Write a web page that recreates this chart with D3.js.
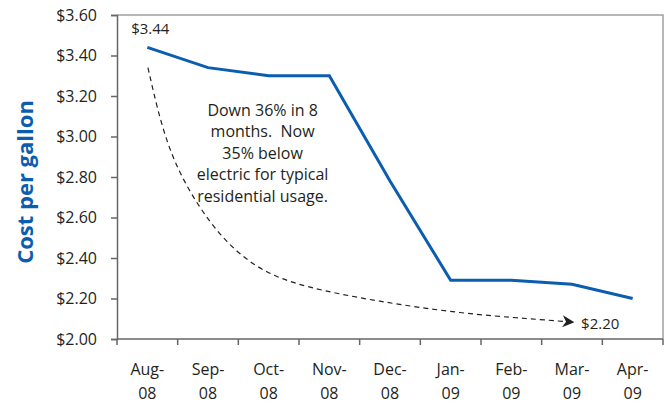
<!DOCTYPE html>
<html>
<head>
<meta charset="utf-8">
<script src="https://cdn.jsdelivr.net/npm/d3@7"></script>
<style>
  body { margin: 0; background: #fff; }
  text { font-family: "Open Sans", "Noto Sans", sans-serif; fill: #231f20; }
</style>
</head>
<body>
<svg id="chart" width="665" height="404"></svg>
<script>
// months on the x axis (two-line labels)
const months = ["Aug-", "Sep-", "Oct-", "Nov-", "Dec-", "Jan-", "Feb-", "Mar-", "Apr-"];
const years = ["08", "08", "08", "08", "08", "09", "09", "09", "09"];
// cost per gallon
const prices = [3.44, 3.34, 3.30, 3.30, 2.78, 2.29, 2.29, 2.27, 2.20];
const yTicks = [2.0, 2.2, 2.4, 2.6, 2.8, 3.0, 3.2, 3.4, 3.6];
// dashed trend arrow, [month index, value]
const arrowPts = [[0.01, 3.34], [0.3, 2.96], [0.75, 2.69], [1.3, 2.47], [1.9, 2.33],
                  [2.6, 2.255], [3.8, 2.185], [5.2, 2.125], [6.3, 2.1], [7.02, 2.083]];
const noteLines = ["Down 36% in 8", "months.  Now", "35% below", "electric for typical", "residential usage."];

const margin = {top: 15, right: 2, bottom: 65, left: 117};
const W = 665, H = 404;
const width = W - margin.left - margin.right;
const height = H - margin.top - margin.bottom;

const svg = d3.select("#chart");
const chart = svg.append("g").attr("transform", `translate(${margin.left},${margin.top})`);

const x = d3.scaleBand().domain(d3.range(months.length)).range([0, width]);
const xi = d3.scaleLinear().domain([-0.5, months.length - 0.5]).range([0, width]);
const y = d3.scaleLinear().domain([2, 3.6]).range([height, 0]);

// box top/right
chart.append("path")
  .attr("d", `M0,0H${width}V${height}`)
  .attr("fill", "none").attr("stroke", "#a0a0a0").attr("stroke-width", 1.5);

// y axis
const yAxis = chart.append("g")
  .call(d3.axisLeft(y).tickValues(yTicks).tickFormat(d => "$" + d.toFixed(2)).tickSize(6).tickPadding(14));
yAxis.select(".domain").attr("stroke", "#666").attr("stroke-width", 1.5);
yAxis.selectAll(".tick line").attr("stroke", "#666").attr("stroke-width", 1.5);
yAxis.selectAll("text").attr("font-size", 16).attr("fill", "#231f20")
  .attr("font-family", "Open Sans, sans-serif");

// x axis with ticks at category boundaries
const xAxisG = chart.append("g").attr("transform", `translate(0,${height})`);
xAxisG.append("line").attr("x1", 0).attr("x2", width)
  .attr("stroke", "#666").attr("stroke-width", 1.5);
xAxisG.selectAll(".bt").data(d3.range(months.length + 1)).join("line")
  .attr("x1", d => xi(d - 0.5)).attr("x2", d => xi(d - 0.5))
  .attr("y1", 0).attr("y2", 6)
  .attr("stroke", "#666").attr("stroke-width", 1.5);
const xl = xAxisG.selectAll(".xl").data(months).join("text")
  .attr("text-anchor", "middle").attr("font-size", 16)
  .attr("x", (d, i) => x(i) + x.bandwidth() / 2);
xl.append("tspan").attr("y", 36).text(d => d);
xl.append("tspan").attr("y", 60).attr("x", (d, i) => x(i) + x.bandwidth() / 2).text((d, i) => years[i]);

// price line
chart.append("path")
  .datum(prices)
  .attr("fill", "none").attr("stroke", "#0b5db0").attr("stroke-width", 3)
  .attr("d", d3.line().x((d, i) => x(i) + x.bandwidth() / 2).y(d => y(d)));

// dashed arrow
svg.append("defs").append("marker")
  .attr("id", "ah").attr("viewBox", "0 0 10 10").attr("refX", 9).attr("refY", 5)
  .attr("markerWidth", 12).attr("markerHeight", 12).attr("markerUnits", "userSpaceOnUse")
  .attr("orient", "auto")
  .append("path").attr("d", "M0,0L10,5L0,10L3,5Z").attr("fill", "#231f20");
chart.append("path")
  .datum(arrowPts)
  .attr("fill", "none").attr("stroke", "#231f20").attr("stroke-width", 1.2)
  .attr("stroke-dasharray", "5,4")
  .attr("marker-end", "url(#ah)")
  .attr("d", d3.line().curve(d3.curveBasis).x(d => xi(d[0])).y(d => y(d[1])));

// value labels
chart.append("text").attr("x", xi(0) + 3).attr("y", y(3.44) - 13)
  .attr("text-anchor", "middle").attr("font-size", 15).text("$3.44");
chart.append("text").attr("x", xi(7.15)).attr("y", y(2.08) + 6)
  .attr("font-size", 15).text("$2.20");

// note
chart.append("g").selectAll("text").data(noteLines).join("text")
  .attr("x", xi(1.9)).attr("y", (d, i) => y(3.0) + 22 + (i - 2) * 21.5)
  .attr("text-anchor", "middle").attr("font-size", 16)
  .style("white-space", "pre").text(d => d);

// y title
svg.append("text")
  .attr("transform", `translate(33,${margin.top + height / 2 + 5}) rotate(-90)`)
  .attr("text-anchor", "middle").attr("font-size", 22).attr("font-weight", "bold")
  .style("fill", "#0b5db0").text("Cost per gallon");
</script>
</body>
</html>
